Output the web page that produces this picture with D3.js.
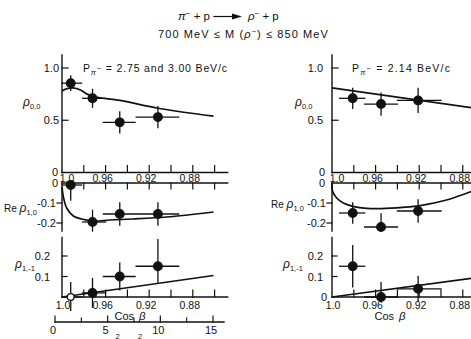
<!DOCTYPE html>
<html>
<head>
<meta charset="utf-8">
<script src="https://cdn.jsdelivr.net/npm/d3@7"></script>
<style>
  html, body { margin: 0; padding: 0; background: #fff; }
  svg { display: block; }
  text { font-family: "Liberation Sans", Arial, sans-serif; fill: #111; }
</style>
</head>
<body>
<svg id="chart" width="471" height="339"></svg>
<script>
// ---- cos(beta) axis ticks and labels ----
const cosLabelValues = [1.0, 0.96, 0.92, 0.88];
const cosLabels = ["1.0", "0.96", "0.92", "0.88"];
const cosTickValues = [0.98, 0.96, 0.94, 0.92, 0.90, 0.88, 0.86];
// ---- secondary momentum-transfer scale ----
const tLabelValues = [0, 5, 10, 15];
const tLabels = ["0", "5", "10", "15"];
const tMinorValues = [2.5, 7.5, 12.5];
// ---- y-axis ticks ----
const rho00Ticks = [1.0, 0.5];
const rho00TickLabels = ["1.0", "0.5"];
const re10Ticks = [-0.1, -0.2];
const re10TickLabels = ["-0.1", "-0.2"];
const rho11Ticks = [0.2, 0.1];
const rho11TickLabels = ["0.2", "0.1"];

// ---- P = 2.75 and 3.00 BeV/c ----
const leftCos = [0.992, 0.972, 0.947, 0.912];
const leftCosFrom = [1.0, 0.981, 0.962, 0.932];
const leftCosTo = [0.982, 0.960, 0.933, 0.893];
const leftRho00 = [0.855, 0.71, 0.48, 0.53];
const leftRho00Err = [0.07, 0.085, 0.10, 0.10];
const leftRe10 = [-0.01, -0.195, -0.155, -0.155];
const leftRe10Err = [0.075, 0.058, 0.055, 0.055];
const leftRho11 = [0.0, 0.02, 0.10, 0.15];
const leftRho11ErrUp = [0.07, 0.07, 0.065, 0.13];
const leftRho11ErrDown = [0.065, 0.07, 0.065, 0.08];
const leftFit00Cos = [1.0, 0.996, 0.990, 0.983, 0.977, 0.968, 0.947, 0.912, 0.861];
const leftFit00 = [0.78, 0.80, 0.81, 0.79, 0.75, 0.72, 0.69, 0.615, 0.54];
const leftFit10Cos = [1.0, 0.9988, 0.9957, 0.9896, 0.982, 0.971, 0.956, 0.935, 0.904, 0.861];
const leftFit10 = [-0.02, -0.068, -0.125, -0.165, -0.18, -0.19, -0.185, -0.18, -0.17, -0.145];
const leftFit11Cos = [1.0, 0.861];
const leftFit11 = [0.0, 0.105];

// ---- P = 2.14 BeV/c ----
const rightCos = [0.981, 0.955, 0.921];
const rightCosFrom = [0.993, 0.970, 0.940];
const rightCosTo = [0.970, 0.940, 0.900];
const rightRho00 = [0.71, 0.655, 0.69];
const rightRho00Err = [0.095, 0.105, 0.115];
const rightRe10 = [-0.15, -0.22, -0.14];
const rightRe10Err = [0.05, 0.065, 0.055];
const rightRho11 = [0.15, 0.0, 0.04];
const rightRho11ErrUp = [0.10, 0.07, 0.06];
const rightRho11ErrDown = [0.10, 0.02, 0.06];
const rightFit00Cos = [1.0, 0.86];
const rightFit00 = [0.81, 0.603];
const rightFit10Cos = [1.0, 0.9994, 0.9957, 0.9896, 0.980, 0.968, 0.955, 0.935, 0.919, 0.895, 0.876, 0.86];
const rightFit10 = [0.0, -0.043, -0.075, -0.10, -0.118, -0.127, -0.128, -0.122, -0.113, -0.085, -0.05, -0.02];
const rightFit11Cos = [1.0, 0.86];
const rightFit11 = [0.0, 0.1];

const svg = d3.select("#chart");

// vertical scales shared by both columns
const y00 = d3.scaleLinear().domain([0, 1]).range([172.5, 68]);
const y10 = d3.scaleLinear().domain([0, -0.2]).range([183, 223]);
const y11 = d3.scaleLinear().domain([0, 0.2]).range([297, 256]);
const tScale = d3.scaleLinear().domain([0, 15]).range([55, 213]);

const ink = "#111";

function seg(g, x1, y1, x2, y2, w) {
  g.append("line").attr("x1", x1).attr("y1", y1).attr("x2", x2).attr("y2", y2)
    .attr("stroke", ink).attr("stroke-width", w || 1.4).attr("stroke-linecap", "square");
}

function label(g, x, y, txt, anchor, size) {
  return g.append("text").attr("x", x).attr("y", y)
    .attr("text-anchor", anchor || "middle")
    .attr("font-size", size || 10.5).text(txt);
}

// rho label with a subscript, optionally prefixed by "Re"
function rhoLabel(g, x, y, sub, prefix) {
  const t = g.append("text").attr("x", x).attr("y", y).attr("font-size", 11);
  if (prefix) t.append("tspan").attr("font-size", 10).text(prefix + " ");
  t.append("tspan").attr("font-style", "italic").attr("font-size", 12).text("ρ");
  t.append("tspan").attr("font-size", 7.5).attr("dy", 2.5).text(sub);
}

function drawPoints(g, x, y, cos, from, to, val, up, down, lo, hi, openIdx) {
  const clamp = v => Math.max(lo, Math.min(hi, v));
  cos.forEach((c, i) => {
    seg(g, x(from[i]), y(val[i]), x(to[i]), y(val[i]), 1.3);
    seg(g, x(c), y(clamp(val[i] + up[i])), x(c), y(clamp(val[i] - down[i])), 1.3);
  });
  g.selectAll(null).data(cos).join("circle")
    .attr("cx", d => x(d))
    .attr("cy", (d, i) => y(val[i]))
    .attr("r", (d, i) => i === openIdx ? 3.4 : 4.3)
    .attr("fill", (d, i) => i === openIdx ? "#fff" : ink)
    .attr("stroke", ink).attr("stroke-width", 1.3);
}

function drawFit(g, x, y, cs, vs) {
  const pts = cs.map((c, i) => [c, vs[i]]);
  g.append("path")
    .attr("d", d3.line().x(d => x(d[0])).y(d => y(d[1])).curve(d3.curveCatmullRom.alpha(0.5))(pts))
    .attr("fill", "none").attr("stroke", ink).attr("stroke-width", 1.7);
}

function drawColumn(c) {
  const g = svg.append("g");
  const x = c.x;
  const x0 = x(1.0), x1 = x(0.848);

  // frame lines of the three stacked panels
  seg(g, x0, 55, x0, y00(0));
  seg(g, x0, y10(0), x0, y10(-0.24));
  seg(g, x0, y11(0.29), x0, y11(0));
  seg(g, x0, y00(0), x1, y00(0));
  seg(g, x0, y10(0), x1, y10(0));
  seg(g, x0, y11(0), x1, y11(0));

  // cos(beta) ticks, pointing into each panel
  cosTickValues.forEach(v => {
    seg(g, x(v), y00(0), x(v), y00(0) - 7, 1.2);
    seg(g, x(v), y10(0), x(v), y10(0) + 6, 1.2);
    seg(g, x(v), y11(0), x(v), y11(0) - 7, 1.2);
  });

  // cos(beta) labels between the upper panels and under the bottom one
  cosLabelValues.forEach((v, i) => {
    const midX = v === 1.0 ? x(v) + 5 : x(v) - 3;
    label(g, midX, 182, cosLabels[i], "middle", 10.5);
    label(g, v === 1.0 ? x(v) + 1 : x(v) - 3, 309, cosLabels[i], "middle", 10.5);
  });
  label(g, c.cosTitleX, 319.5, "Cos ", "end", 11);
  g.append("text").attr("x", c.cosTitleX + 5).attr("y", 319.5)
    .attr("font-size", 11.5).attr("font-style", "italic").text("β");

  // y ticks and labels
  rho00Ticks.forEach((v, i) => {
    seg(g, x0, y00(v), x0 + 6, y00(v), 1.2);
    label(g, x0 - c.labelGap, y00(v) + 4, rho00TickLabels[i], "end", 11);
  });
  label(g, x0 - c.zeroGap, y00(0) + 3.5, "0", "end", 11);
  label(g, x0 - c.zeroGap, y10(0) + 4, "0", "end", 11);
  re10Ticks.forEach((v, i) => {
    seg(g, x0, y10(v), x0 - 5, y10(v), 1.2);
    label(g, x0 - 6, y10(v) + 4, re10TickLabels[i], "end", 11);
  });
  rho11Ticks.forEach((v, i) => {
    seg(g, x0, y11(v), x0 + 5, y11(v), 1.2);
    label(g, x0 - c.lowGap, y11(v) + 4, rho11TickLabels[i], "end", 11);
  });
  if (c.bottomZero) label(g, x0 - 5, y11(0) + 3.5, "0", "end", 11);

  // panel titles
  rhoLabel(g, c.rho00X, 106, "0,0");
  rhoLabel(g, c.re10X, c.re10Y, "1,0", "Re");
  rhoLabel(g, c.rho11X, 268, "1,-1");

  // fitted curves
  drawFit(g, x, y00, c.fit00Cos, c.fit00);
  drawFit(g, x, y10, c.fit10Cos, c.fit10);
  drawFit(g, x, y11, c.fit11Cos, c.fit11);

  // measurements
  drawPoints(g, x, y00, c.cos, c.from, c.to, c.rho00, c.rho00Err, c.rho00Err, 0, 1.12, -1);
  drawPoints(g, x, y10, c.cos, c.from, c.to, c.re10, c.re10Err, c.re10Err, -0.24, 0, -1);
  drawPoints(g, x, y11, c.cos, c.from, c.to, c.rho11, c.rho11Up, c.rho11Down, -0.07, 0.29, c.openIdx);

  // beam momentum annotation
  const a = g.append("text").attr("x", c.noteX).attr("y", 72).attr("font-size", 10.5);
  a.append("tspan").text("P");
  a.append("tspan").attr("font-size", 7.5).attr("dy", 2.5).attr("font-style", "italic").text("π");
  a.append("tspan").attr("font-size", 7.5).attr("dy", -4).text("−");
  a.append("tspan").attr("dy", 1.5).text(c.note);
  fitWidth(a, c.noteW);
}

function fitWidth(sel, target) {
  const node = sel.node();
  const len = node.getComputedTextLength();
  const n = node.textContent.length;
  if (n > 1) sel.attr("letter-spacing", ((target - len) / (n - 1)).toFixed(2));
}

drawColumn({
  x: d3.scaleLinear().domain([1.0, 0.86]).range([62, 214.6]),
  cos: leftCos, from: leftCosFrom, to: leftCosTo,
  rho00: leftRho00, rho00Err: leftRho00Err,
  re10: leftRe10, re10Err: leftRe10Err,
  rho11: leftRho11, rho11Up: leftRho11ErrUp, rho11Down: leftRho11ErrDown,
  fit00Cos: leftFit00Cos, fit00: leftFit00,
  fit10Cos: leftFit10Cos, fit10: leftFit10,
  fit11Cos: leftFit11Cos, fit11: leftFit11,
  openIdx: 0, bottomZero: false,
  labelGap: 3, zeroGap: 4, lowGap: 12,
  rho00X: 23, re10X: 4, re10Y: 212, rho11X: 15,
  cosTitleX: 134,
  noteX: 83, note: " = 2.75 and 3.00 BeV/c", noteW: 144
});

drawColumn({
  x: d3.scaleLinear().domain([1.0, 0.86]).range([332, 484.6]),
  cos: rightCos, from: rightCosFrom, to: rightCosTo,
  rho00: rightRho00, rho00Err: rightRho00Err,
  re10: rightRe10, re10Err: rightRe10Err,
  rho11: rightRho11, rho11Up: rightRho11ErrUp, rho11Down: rightRho11ErrDown,
  fit00Cos: rightFit00Cos, fit00: rightFit00,
  fit10Cos: rightFit10Cos, fit10: rightFit10,
  fit11Cos: rightFit11Cos, fit11: rightFit11,
  openIdx: -1, bottomZero: true,
  labelGap: 9, zeroGap: 7, lowGap: 9,
  rho00X: 295, re10X: 271, re10Y: 208, rho11X: 283,
  cosTitleX: 394,
  noteX: 352, note: " = 2.14 BeV/c", noteW: 98
});

// secondary scale under the left cos(beta) axis
const tg = svg.append("g");
seg(tg, tScale(0), 322, 224, 322);
tLabelValues.forEach((v, i) => {
  seg(tg, tScale(v), 322, tScale(v), 316, 1.2);
  label(tg, tScale(v) - 2, 334, tLabels[i], "middle", 11);
});
tMinorValues.forEach(v => seg(tg, tScale(v), 322, tScale(v), 318, 1.1));
const tt = tg.append("text").attr("x", 104).attr("y", 348).attr("font-size", 11);
tt.append("tspan").text("−t′");
tt.append("tspan").attr("font-size", 7.5).attr("dy", -9).text("2");
tt.append("tspan").attr("dy", 9).text(" , m");
tt.append("tspan").attr("font-size", 7.5).attr("dy", -9).text("2");

// reaction and mass window
const title = svg.append("g");
const t1 = title.append("text").attr("x", 210).attr("y", 20).attr("text-anchor", "end").attr("font-size", 11.5);
t1.append("tspan").attr("font-style", "italic").text("π");
t1.append("tspan").attr("font-size", 8).attr("dy", -4).text("−");
t1.append("tspan").attr("dy", 4).text(" + p");
seg(title, 214, 16.5, 234, 16.5, 1.2);
title.append("path").attr("d", "M232,13.5 L242,16.5 L232,19.5 Z").attr("fill", ink);
const t2 = title.append("text").attr("x", 248).attr("y", 20).attr("font-size", 11.5);
t2.append("tspan").attr("font-style", "italic").text("ρ");
t2.append("tspan").attr("font-size", 8).attr("dy", -4).text("−");
t2.append("tspan").attr("dy", 4).text(" + p");

const t3 = title.append("text").attr("x", 158).attr("y", 38).attr("font-size", 11);
t3.append("tspan").text("700 MeV  ≤  M (");
t3.append("tspan").attr("font-style", "italic").text("ρ");
t3.append("tspan").attr("font-size", 7.5).attr("dy", -4).text("−");
t3.append("tspan").attr("dy", 4).text(") ≤ 850 MeV");
fitWidth(t3, 172);
</script>
</body>
</html>
